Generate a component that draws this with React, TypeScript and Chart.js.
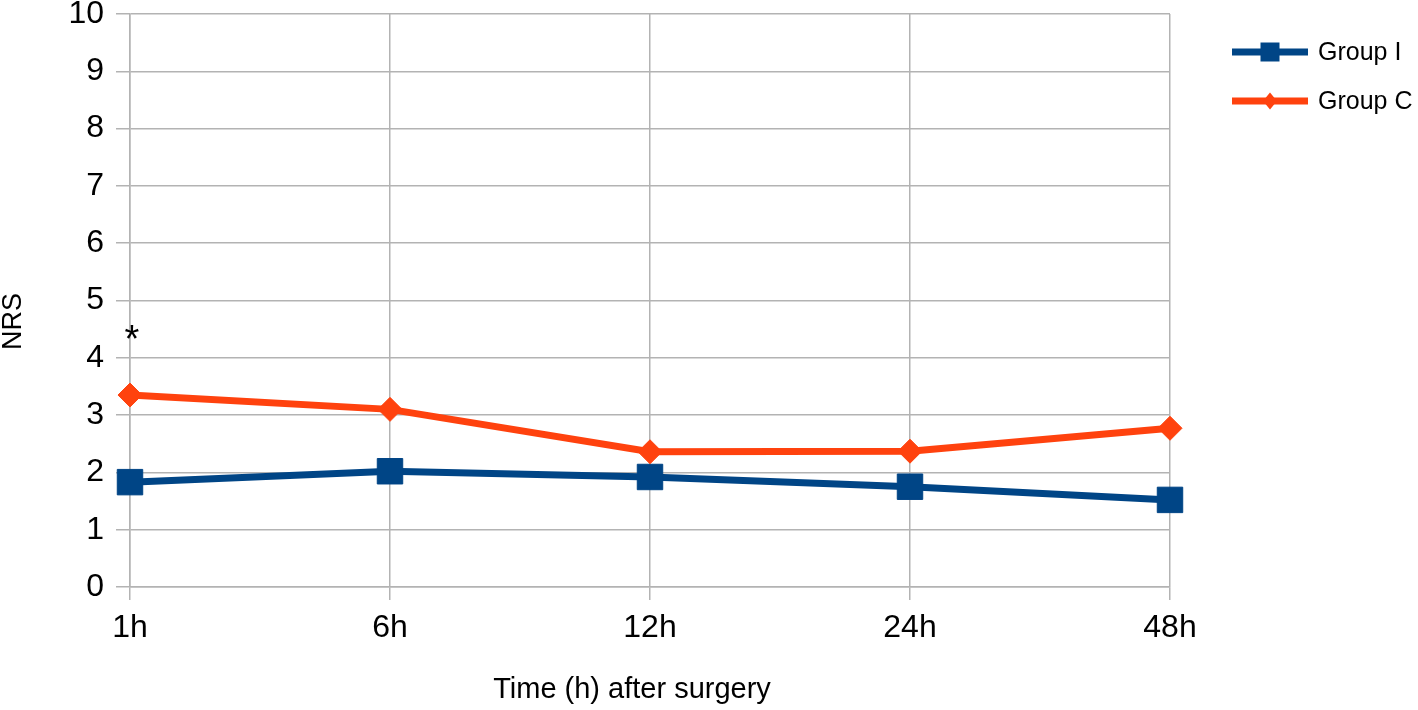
import React, { useEffect, useRef } from "react";
import { Chart, registerables } from "chart.js";

Chart.register(...registerables);

// ---- data ----
const categories = ["1h", "6h", "12h", "24h", "48h"];
const groupIValues = [1.83, 2.02, 1.92, 1.75, 1.52];
const groupCValues = [3.35, 3.1, 2.36, 2.37, 2.77];
const seriesNames = ["Group I", "Group C"];
const yMin = 0;
const yMax = 10;
const yStep = 1;
const xTitle = "Time (h) after surgery";
const yTitle = "NRS";
// significance marks: category index, value at which the mark is centred, text
const markIndex = [0];
const markValue = [4.38];
const markText = ["*"];

// ---- styles ----
const BLUE = "#004586";
const ORANGE = "#ff420e";
const GRID = "#b3b3b3";
const FONT = "'Liberation Sans', Arial, sans-serif";

const extrasPlugin = {
  id: "extras",
  afterDraw(chart: any) {
    const ctx = chart.ctx as CanvasRenderingContext2D;
    const xs = chart.scales.x;
    const ys = chart.scales.y;
    const area = chart.chartArea;
    ctx.save();
    ctx.fillStyle = "#000";

    // significance marks
    ctx.font = `38px ${FONT}`;
    ctx.textAlign = "center";
    ctx.textBaseline = "middle";
    markIndex.forEach((idx, i) => {
      const px = xs.getPixelForValue(idx);
      const py = ys.getPixelForValue(markValue[i]);
      ctx.fillText(markText[i], px + 2, py + 5);
    });

    // x title
    ctx.font = `29px ${FONT}`;
    ctx.textAlign = "center";
    ctx.textBaseline = "middle";
    ctx.fillText(xTitle, (area.left + area.right) / 2 - 18, 690);

    // y title
    ctx.save();
    ctx.translate(14, (area.top + area.bottom) / 2 + 21);
    ctx.rotate(-Math.PI / 2);
    ctx.font = `27px ${FONT}`;
    ctx.textAlign = "center";
    ctx.textBaseline = "middle";
    ctx.fillText(yTitle, 0, 0);
    ctx.restore();

    // legend
    const colors = [BLUE, ORANGE];
    const lx0 = 1232;
    const lx1 = 1308;
    const ly0 = 52;
    const lstep = 49;
    seriesNames.forEach((name, i) => {
      const y = ly0 + i * lstep;
      ctx.strokeStyle = colors[i];
      ctx.fillStyle = colors[i];
      ctx.lineWidth = 7;
      ctx.beginPath();
      ctx.moveTo(lx0, y);
      ctx.lineTo(lx1, y);
      ctx.stroke();
      const cx = (lx0 + lx1) / 2;
      ctx.beginPath();
      if (i === 0) {
        ctx.rect(cx - 9.5, y - 9.5, 19, 19);
      } else {
        ctx.moveTo(cx - 7, y);
        ctx.lineTo(cx, y - 8.5);
        ctx.lineTo(cx + 7, y);
        ctx.lineTo(cx, y + 8.5);
        ctx.closePath();
      }
      ctx.fill();
      ctx.fillStyle = "#000";
      ctx.font = `25px ${FONT}`;
      ctx.textAlign = "left";
      ctx.textBaseline = "middle";
      ctx.fillText(name, 1318, y + 1);
    });
    ctx.restore();
  },
};

export default function App() {
  const ref = useRef<HTMLCanvasElement | null>(null);

  useEffect(() => {
    if (!ref.current) return;
    const chart = new Chart(ref.current, {
      type: "line",
      data: {
        labels: categories,
        datasets: [
          {
            label: seriesNames[0],
            data: groupIValues,
            borderColor: BLUE,
            backgroundColor: BLUE,
            borderWidth: 7,
            pointStyle: "rect",
            pointRadius: 18,
            pointHoverRadius: 18,
            pointBorderWidth: 1,
            pointBorderColor: BLUE,
            pointBackgroundColor: BLUE,
            tension: 0,
            order: 2,
          },
          {
            label: seriesNames[1],
            data: groupCValues,
            borderColor: ORANGE,
            backgroundColor: ORANGE,
            borderWidth: 7,
            pointStyle: "rectRot",
            pointRadius: 12,
            pointHoverRadius: 12,
            pointBorderWidth: 1,
            pointBorderColor: ORANGE,
            pointBackgroundColor: ORANGE,
            tension: 0,
            order: 1,
          },
        ],
      },
      options: {
        animation: false,
        responsive: true,
        maintainAspectRatio: false,
        layout: { autoPadding: false, padding: { top: 14, right: 248, left: 0, bottom: 0 } },
        plugins: {
          legend: { display: false },
          tooltip: { enabled: false },
          title: { display: false },
        },
        scales: {
          x: {
            type: "category",
            offset: false,
            grid: { color: GRID, lineWidth: 1.5, tickLength: 13, drawTicks: true },
            border: { color: GRID, width: 1.5 },
            ticks: { color: "#000", font: { family: FONT, size: 32 }, padding: 9, maxRotation: 0 },
            afterFit: (s: any) => {
              s.height = 123;
              s.paddingLeft = 0;
              s.paddingRight = 0;
            },
          },
          y: {
            min: yMin,
            max: yMax,
            grid: { color: GRID, lineWidth: 1.5, tickLength: 14, drawTicks: true },
            border: { color: GRID, width: 1.5 },
            ticks: {
              stepSize: yStep,
              color: "#000",
              font: { family: FONT, size: 32 },
              padding: 12,
            },
            afterFit: (s: any) => {
              s.width = 130;
              s.paddingTop = 0;
              s.paddingBottom = 0;
            },
          },
        },
      },
      plugins: [extrasPlugin],
    });
    return () => chart.destroy();
  }, []);

  return (
    <div style={{ position: "absolute", left: 0, top: 0, width: 1418, height: 710, background: "#fff" }}>
      <canvas ref={ref} />
    </div>
  );
}
